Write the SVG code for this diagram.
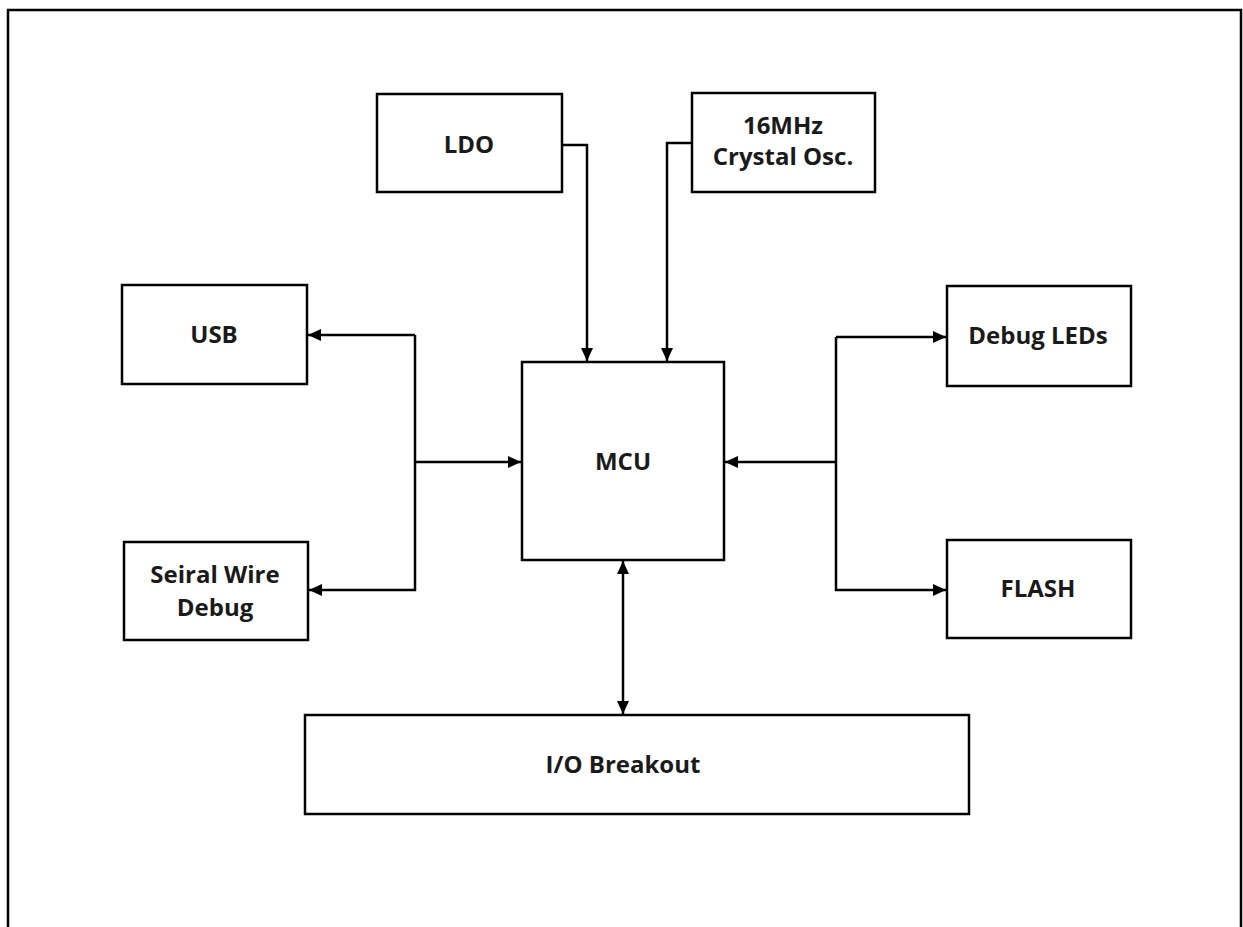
<svg xmlns="http://www.w3.org/2000/svg" width="1243" height="927" viewBox="0 0 1243 927">
<style>
.box{fill:#fff;stroke:#000;stroke-width:2.5}
.lbl{font-family:"Open Sans",sans-serif;font-weight:bold;font-size:24px;fill:#1a1a1a;text-anchor:middle}
.wire{fill:none;stroke:#000;stroke-width:2.5}
</style>
<defs>
<marker id="ah" viewBox="0 0 13 12" refX="13" refY="6" markerWidth="13" markerHeight="12" orient="auto-start-reverse" markerUnits="userSpaceOnUse">
<path d="M0,0 L13,6 L0,12 z" fill="#000"/>
</marker>
</defs>
<rect width="1243" height="927" fill="#fff"/>
<path d="M8,927 V10 H1241 V927" fill="none" stroke="#000" stroke-width="2.5"/>
<g id="ldo"><rect class="box" x="377" y="94" width="185" height="98"/><text class="lbl" x="469" y="153">LDO</text></g>
<g id="crystal"><rect class="box" x="692" y="93" width="183" height="99"/><text class="lbl" x="783" y="134">16MHz</text><text class="lbl" x="783" y="165">Crystal Osc.</text></g>
<g id="usb"><rect class="box" x="122" y="285" width="185" height="99"/><text class="lbl" x="214" y="343">USB</text></g>
<g id="swd"><rect class="box" x="124" y="542" width="184" height="98"/><text class="lbl" x="215" y="583">Seiral Wire</text><text class="lbl" x="215" y="616">Debug</text></g>
<g id="mcu"><rect class="box" x="522" y="362" width="202" height="198"/><text class="lbl" x="623" y="470">MCU</text></g>
<g id="leds"><rect class="box" x="947" y="286" width="184" height="100"/><text class="lbl" x="1038" y="344">Debug LEDs</text></g>
<g id="flash"><rect class="box" x="947" y="540" width="184" height="98"/><text class="lbl" x="1038" y="597">FLASH</text></g>
<g id="io"><rect class="box" x="305" y="715" width="664" height="99"/><text class="lbl" x="623" y="773">I/O Breakout</text></g>
<g id="connectors">
<path class="wire" d="M562,145 H587 V361" marker-end="url(#ah)"/>
<path class="wire" d="M692,143 H667 V361" marker-end="url(#ah)"/>
<path class="wire" d="M415,462 H521" marker-end="url(#ah)"/>
<path class="wire" d="M415,335 H308" marker-end="url(#ah)"/>
<path class="wire" d="M415,335 V590 H309" marker-end="url(#ah)"/>
<path class="wire" d="M836,462 H725" marker-end="url(#ah)"/>
<path class="wire" d="M836,337 H946" marker-end="url(#ah)"/>
<path class="wire" d="M836,337 V590 H946" marker-end="url(#ah)"/>
<path class="wire" d="M623,561 V714" marker-start="url(#ah)" marker-end="url(#ah)"/>
</g>
</svg>
